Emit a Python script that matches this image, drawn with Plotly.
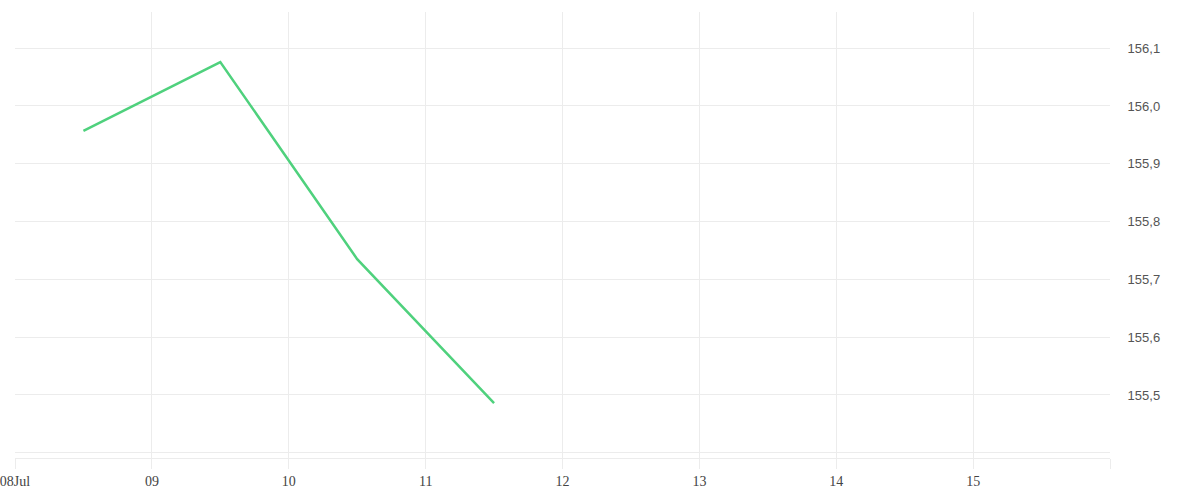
import plotly.graph_objects as go

dates = ["2024-07-08 12:00", "2024-07-09 12:00", "2024-07-10 12:00", "2024-07-11 12:00"]
values = [155.957, 156.076, 155.735, 155.486]

tick_dates = ["2024-07-08", "2024-07-09", "2024-07-10", "2024-07-11", "2024-07-12",
              "2024-07-13", "2024-07-14", "2024-07-15", "2024-07-16"]
tick_labels = ["08Jul", "09", "10", "11", "12", "13", "14", "15", ""]

y_ticks = [155.4, 155.5, 155.6, 155.7, 155.8, 155.9, 156.0, 156.1]
y_labels = ["", "155,5", "155,6", "155,7", "155,8", "155,9", "156,0", "156,1"]

grid = "#ececec"

fig = go.Figure()
fig.add_trace(go.Scatter(
    x=dates, y=values, mode="lines",
    line=dict(color="#4fd17d", width=2.5),
    hoverinfo="skip",
))

fig.update_layout(
    width=1200, height=500,
    margin=dict(l=15, r=90, t=12, b=42, autoexpand=False),
    paper_bgcolor="white", plot_bgcolor="white",
    showlegend=False,
    font=dict(family="Liberation Serif", size=13, color="#444"),
    separators=",.",
)
fig.update_xaxes(
    type="date",
    range=["2024-07-08", "2024-07-16"],
    tickmode="array", tickvals=tick_dates, ticktext=tick_labels,
    showgrid=True, gridcolor=grid, gridwidth=1,
    ticks="outside", ticklen=10, tickcolor=grid,
    showline=True, linecolor=grid, linewidth=1,
    zeroline=False, automargin=False,
    ticklabeloverflow="allow",
    tickfont=dict(family="Liberation Serif", size=14, color="#444"),
)
fig.update_yaxes(
    side="right",
    range=[155.391, 156.1625],
    tickmode="array", tickvals=y_ticks, ticktext=y_labels,
    showgrid=True, gridcolor=grid, gridwidth=1,
    zeroline=False, showline=False,
    ticks="outside", ticklen=14, tickcolor="rgba(0,0,0,0)",
    automargin=False, ticklabeloverflow="allow",
    tickfont=dict(family="Liberation Sans", size=13, color="#555"),
)

fig.write_html("out.html", config={"displayModeBar": False},
               post_script="document.body.style.margin='0';")
